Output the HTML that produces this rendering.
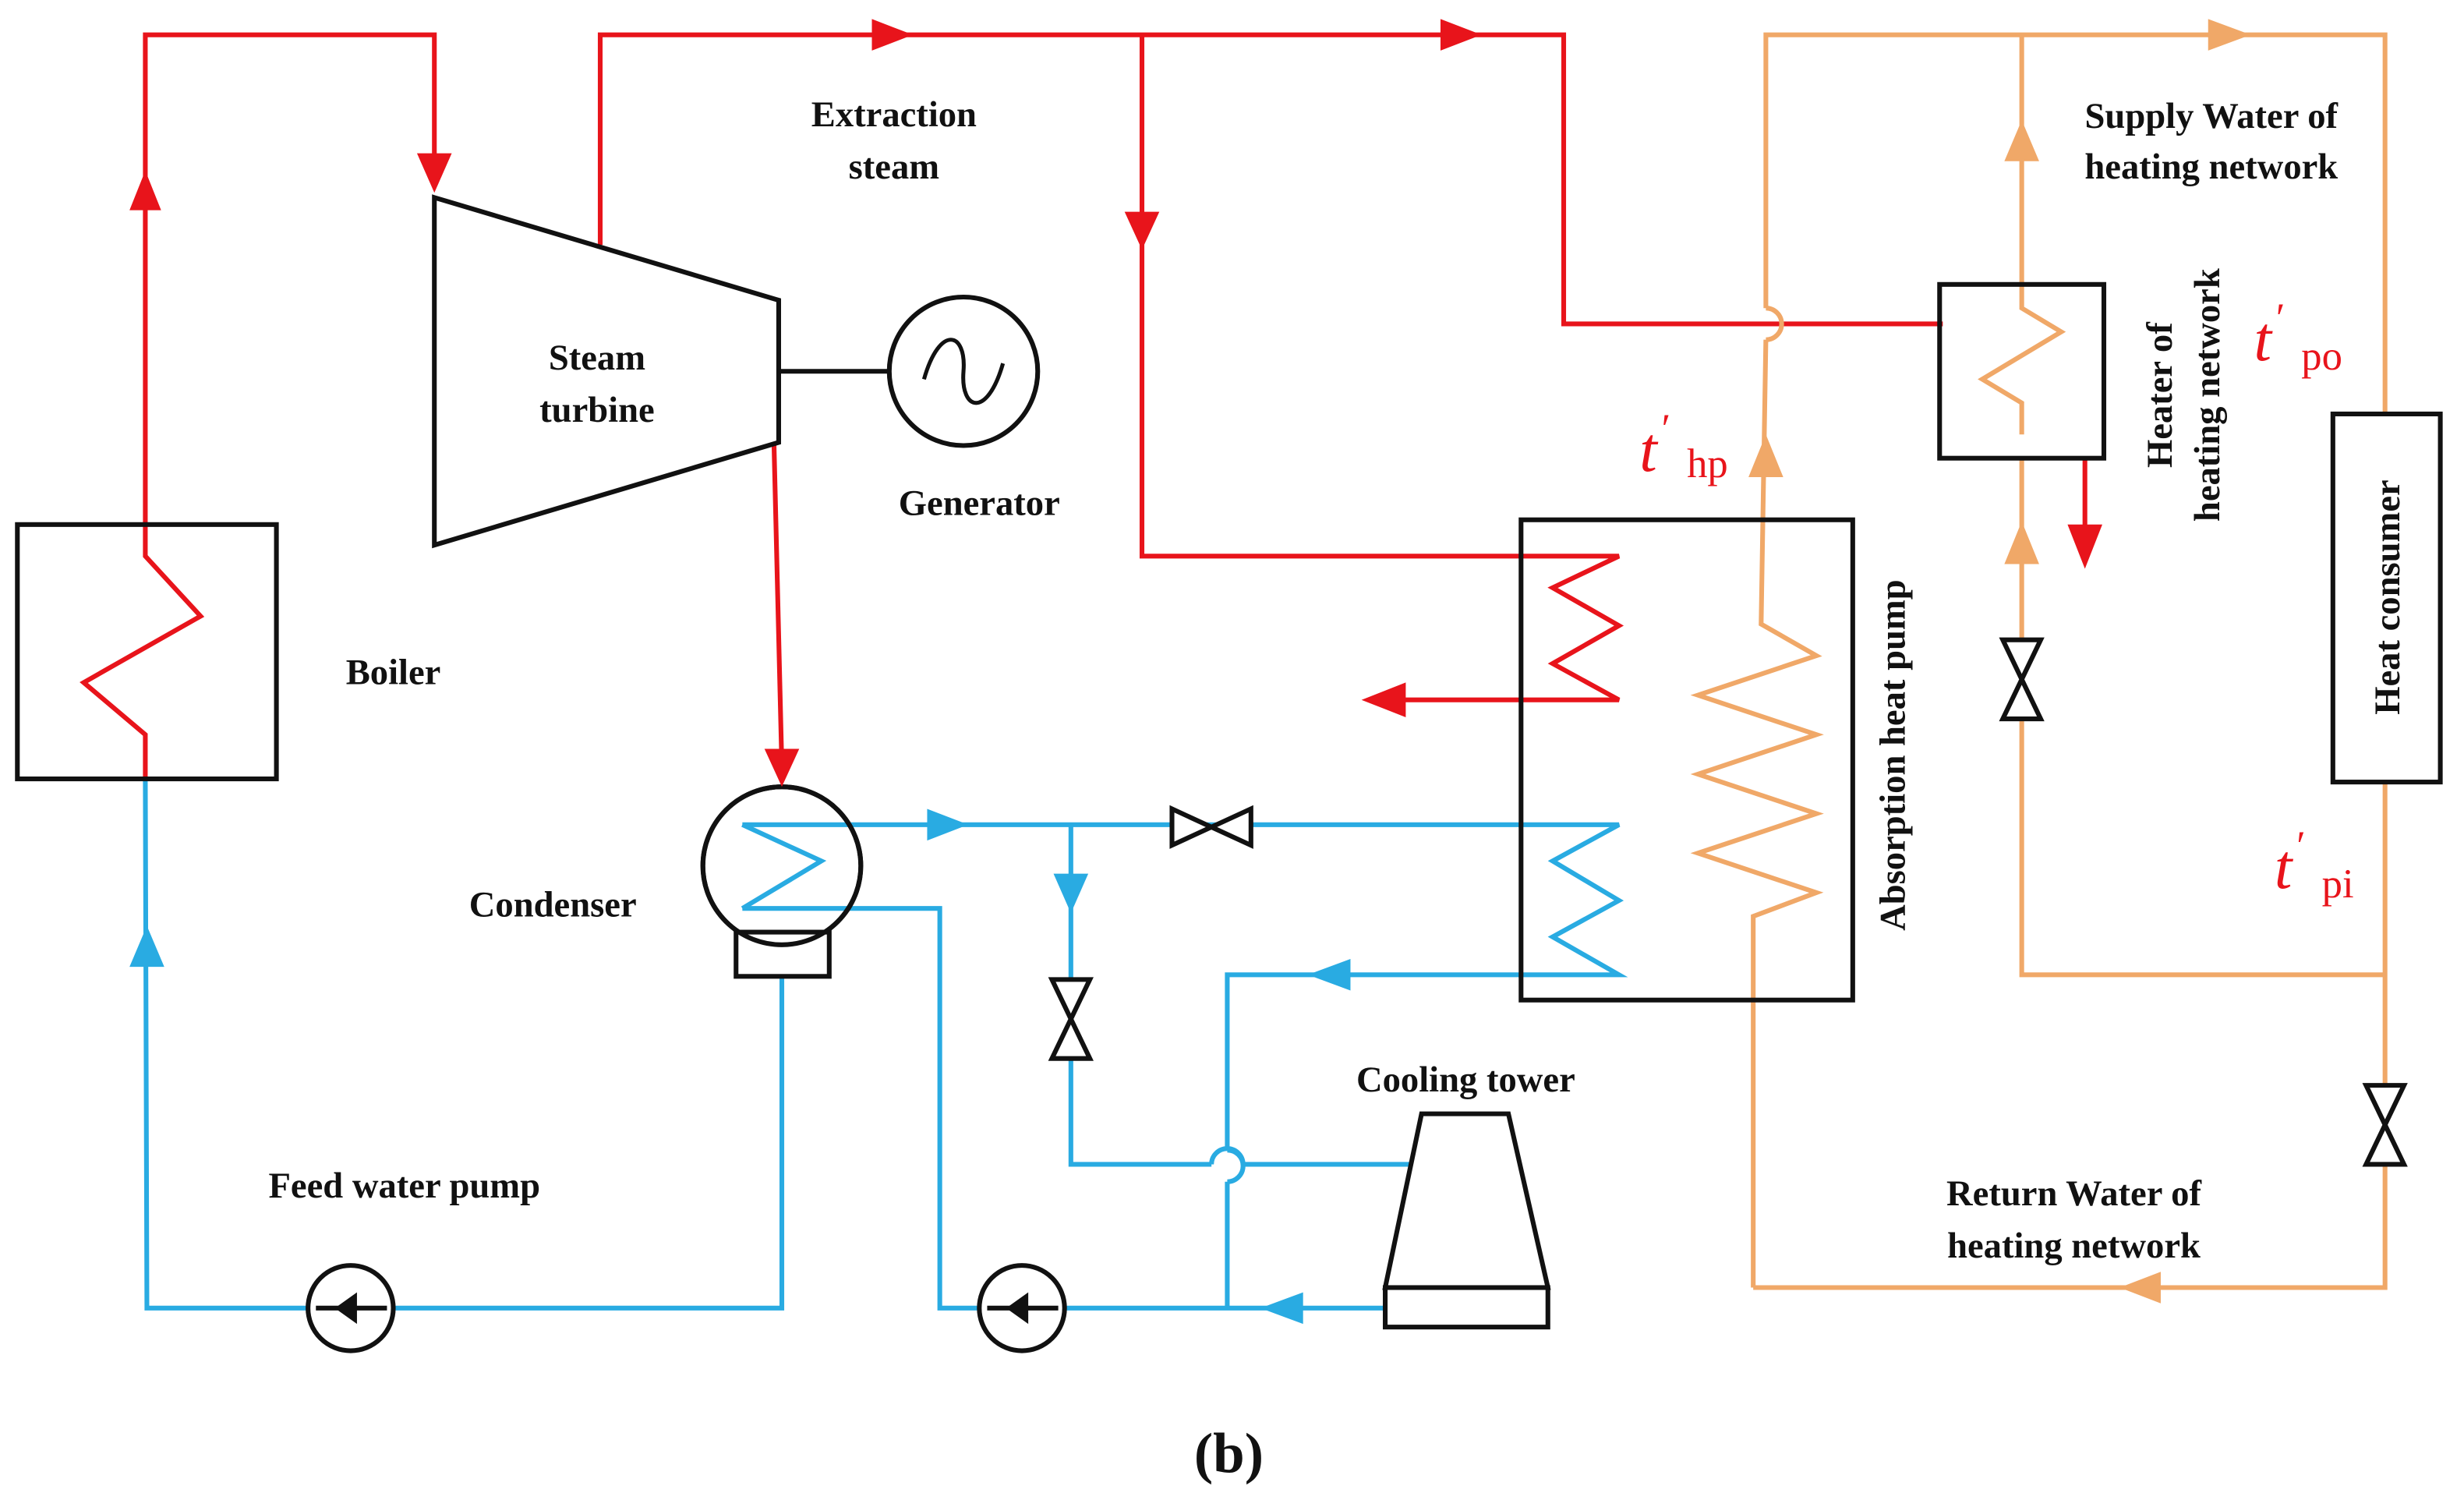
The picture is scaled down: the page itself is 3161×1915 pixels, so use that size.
<!DOCTYPE html>
<html><head><meta charset="utf-8"><style>
html,body{margin:0;padding:0;background:#fff;}
svg{display:block}
text{font-family:"Liberation Serif",serif;font-weight:bold;font-size:23px;fill:#111;}
.t{font-style:italic;font-weight:normal;fill:#e8141b;font-size:40px}
.s{font-style:normal;font-weight:normal;fill:#e8141b;font-size:26px}
</style></head><body>
<svg width="3161" height="1915" viewBox="0 0 1560 945" xmlns="http://www.w3.org/2000/svg">
<g fill="none" stroke-width="3" stroke-linejoin="miter">
<g stroke="#e8141b">
<polyline points="92,493 92,465 53,432 127,390 92,352 92,22 275,22 275,118"/>
<polyline points="380,155 380,22 990,22 990,205 1230,205"/>
<polyline points="723,22 723,352 1025,352 983,372 1025,396 983,420 1025,443 885,443"/>
<polyline points="490,280 495,485"/>
<polyline points="1320,290 1320,340"/>
</g>
<g stroke="#f0a868">
<polyline points="1110,815 1110,580 1150,565 1075,540 1150,515 1075,490 1150,465 1075,440 1150,415 1115,395 1118,215"/>
<path d="M1118,215 A10,10 0 0 0 1118,195"/>
<polyline points="1118,195 1118,22 1510,22 1510,262"/>
<polyline points="1280,22 1280,180"/>
<polyline points="1280,290 1280,617 1510,617"/>
<polyline points="1510,495 1510,815 1110,815"/>
<polyline points="1280,275 1280,255 1255,240 1305,210 1280,195 1280,180"/>
</g>
<g stroke="#29abe2">
<polyline points="470,522 545,522 1025,522 983,545 1025,570 983,593 1025,617 777,617 777,728"/>
<path d="M777,728 A10,10 0 0 1 777,748"/>
<polyline points="777,748 777,828"/>
<polyline points="678,522 678,737 767,737"/>
<path d="M767,737 A10,10 0 0 1 787,737"/>
<polyline points="787,737 893,737"/>
<polyline points="470,575 595,575 595,828 877,828"/>
<polyline points="495,618 495,828 93,828 92,493"/>
<polyline points="470,522 520,545 470,575"/>
</g>
<g stroke="#111">
<rect x="11" y="332" width="164" height="161"/>
<polygon points="275,125 493,190 493,280 275,345"/>
<line x1="493" y1="235" x2="563" y2="235"/>
<circle cx="610" cy="235" r="47"/>
<path d="M585,240 C595,205 612,210 610,235 C608,260 625,265 635,230" stroke-width="2.5"/>
<circle cx="495" cy="548" r="50"/>
<rect x="466" y="590" width="59" height="28" fill="#fff"/>
<circle cx="495" cy="548" r="50"/>
<rect x="963" y="329" width="210" height="304"/>
<rect x="1228" y="180" width="104" height="110"/>
<rect x="1477" y="262" width="68" height="233"/>
<polygon points="900,705 955,705 980,815 877,815"/>
<rect x="877" y="815" width="103" height="25"/>
<circle cx="222" cy="828" r="27" fill="#fff"/>
<circle cx="647" cy="828" r="27" fill="#fff"/>
<line x1="200" y1="828" x2="245" y2="828"/>
<line x1="625" y1="828" x2="670" y2="828"/>
<polygon points="742,512 742,535 792,512 792,535" fill="#fff"/>
<polygon points="666,620 690,620 666,670 690,670" fill="#fff"/>
<polygon points="1268,405 1292,405 1268,455 1292,455" fill="#fff"/>
<polygon points="1498,687 1522,687 1498,737 1522,737" fill="#fff"/>
</g>
</g>
<g fill="#e8141b">
<polygon points="82,133 102,133 92,108"/>
<polygon points="264,97 286,97 275,122"/>
<polygon points="552,12 552,32 578,22"/>
<polygon points="912,12 912,32 938,22"/>
<polygon points="712,134 734,134 723,158"/>
<polygon points="484,474 506,474 495,498"/>
<polygon points="890,432 890,454 862,443"/>
<polygon points="1309,332 1331,332 1320,360"/>
</g>
<g fill="#f0a868">
<polygon points="1107,302 1129,302 1118,275"/>
<polygon points="1398,12 1398,32 1425,22"/>
<polygon points="1269,102 1291,102 1280,76"/>
<polygon points="1269,357 1291,357 1280,330"/>
<polygon points="1368,805 1368,825 1342,815"/>
</g>
<g fill="#29abe2">
<polygon points="587,512 587,532 613,522"/>
<polygon points="667,553 689,553 678,578"/>
<polygon points="855,607 855,627 828,617"/>
<polygon points="825,818 825,838 798,828"/>
<polygon points="82,612 104,612 93,586"/>
</g>
<g fill="#111">
<polygon points="212,828 226,818 226,838"/>
<polygon points="637,828 651,818 651,838"/>
</g>
<g text-anchor="middle">
<text x="566" y="80">Extraction</text>
<text x="566" y="113">steam</text>
<text x="378" y="234">Steam</text>
<text x="378" y="267">turbine</text>
<text x="620" y="326">Generator</text>
<text x="249" y="433">Boiler</text>
<text x="350" y="580">Condenser</text>
<text x="256" y="758">Feed water pump</text>
<text x="928" y="691">Cooling tower</text>
<text x="1313" y="763">Return Water of</text>
<text x="1313" y="796">heating network</text>
<text x="1400" y="81">Supply Water of</text>
<text x="1400" y="113">heating network</text>
<text x="778" y="932" style="font-size:36px">(<tspan>b</tspan>)</text>
<text transform="translate(1206,478) rotate(-90)">Absorption heat pump</text>
<text transform="translate(1375,250) rotate(-90)">Heater of</text>
<text transform="translate(1405,250) rotate(-90)">heating network</text>
<text transform="translate(1519,378) rotate(-90)">Heat consumer</text>
</g>
<text class="t" x="1038" y="298">t</text><text class="s" x="1052" y="280">′</text><text class="s" x="1068" y="302">hp</text>
<text class="t" x="1427" y="228">t</text><text class="s" x="1441" y="210">′</text><text class="s" x="1457" y="234">po</text>
<text class="t" x="1440" y="562">t</text><text class="s" x="1454" y="544">′</text><text class="s" x="1470" y="568">pi</text>
</svg>
</body></html>
